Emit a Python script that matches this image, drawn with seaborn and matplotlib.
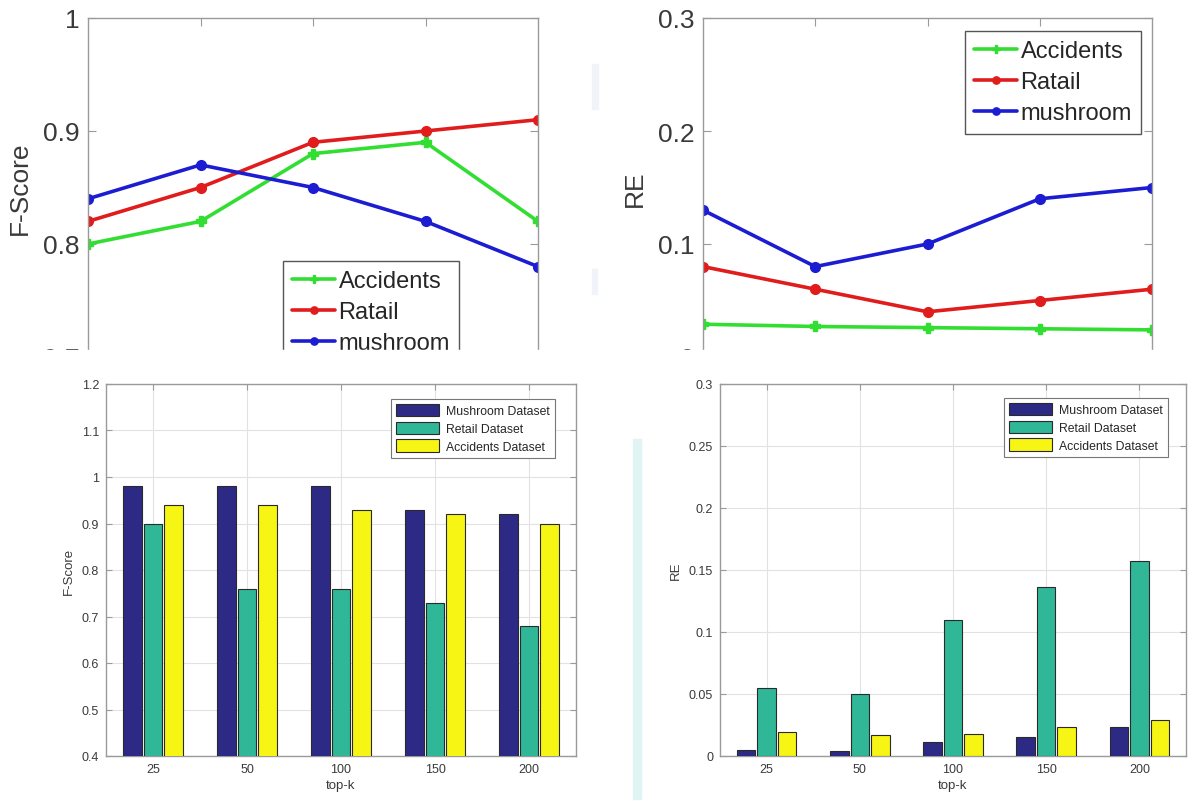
import numpy as np
import pandas as pd
import matplotlib
matplotlib.use("Agg")
import matplotlib.pyplot as plt
from matplotlib.patches import Rectangle
import seaborn as sns

# ---------------- data ----------------
topk = ["25", "50", "100", "150", "200"]

# top row (line charts)
line_series = ["Accidents", "Ratail", "mushroom"]
fscore_accidents = [0.80, 0.82, 0.88, 0.89, 0.82]
fscore_ratail = [0.82, 0.85, 0.89, 0.90, 0.91]
fscore_mushroom = [0.84, 0.87, 0.85, 0.82, 0.78]

re_accidents = [0.029, 0.027, 0.026, 0.025, 0.024]
re_ratail = [0.080, 0.060, 0.040, 0.050, 0.060]
re_mushroom = [0.130, 0.080, 0.100, 0.140, 0.150]

# bottom row (bar charts)
bar_series = ["Mushroom Dataset", "Retail Dataset", "Accidents Dataset"]
bar_fscore_mushroom = [0.98, 0.98, 0.98, 0.93, 0.92]
bar_fscore_retail = [0.90, 0.76, 0.76, 0.73, 0.68]
bar_fscore_accidents = [0.94, 0.94, 0.93, 0.92, 0.90]

bar_re_mushroom = [0.005, 0.004, 0.011, 0.015, 0.023]
bar_re_retail = [0.055, 0.050, 0.110, 0.136, 0.157]
bar_re_accidents = [0.019, 0.017, 0.018, 0.023, 0.029]

top_fs_ticks = [0.7, 0.8, 0.9, 1.0]
top_fs_labels = ["0.7", "0.8", "0.9", "1"]
top_re_ticks = [0.0, 0.1, 0.2, 0.3]
top_re_labels = ["0", "0.1", "0.2", "0.3"]
bot_fs_ticks = [0.4, 0.5, 0.6, 0.7, 0.8, 0.9, 1.0, 1.1, 1.2]
bot_fs_labels = ["0.4", "0.5", "0.6", "0.7", "0.8", "0.9", "1", "1.1", "1.2"]
bot_re_ticks = [0.0, 0.05, 0.1, 0.15, 0.2, 0.25, 0.3]
bot_re_labels = ["0", "0.05", "0.1", "0.15", "0.2", "0.25", "0.3"]

# ---------------- style ----------------
sns.set_style("white")
plt.rcParams["font.family"] = ["Liberation Sans", "DejaVu Sans"]

W, H = 1190, 803
fig = plt.figure(figsize=(W / 100, H / 100), dpi=100)
fig.patch.set_facecolor("white")


def rect(l, t, r, b):
    return [l / W, 1 - b / H, (r - l) / W, (b - t) / H]


SPINE = "#9a9a9a"
TXT = "#3a3a3a"
line_colors = {"Accidents": "#33de33", "Ratail": "#e01c1c", "mushroom": "#1c1cd2"}
line_markers = {"Accidents": "P", "Ratail": "o", "mushroom": "o"}
bar_colors = {"Mushroom Dataset": "#2d2a86",
              "Retail Dataset": "#30b797",
              "Accidents Dataset": "#f6f514"}

# faint watermark strips in the background
fig.add_artist(Rectangle((633 / W, 1 - 800 / H), 8 / W, 360 / H,
                         transform=fig.transFigure, color="#e0f4f3", zorder=-5))
fig.add_artist(Rectangle((592 / W, 1 - 110 / H), 6 / W, 45 / H,
                         transform=fig.transFigure, color="#f0f3f8", zorder=-5))
fig.add_artist(Rectangle((592 / W, 1 - 295 / H), 5 / W, 25 / H,
                         transform=fig.transFigure, color="#f0f3f8", zorder=-5))


def style_top(ax):
    for s in ax.spines.values():
        s.set_color(SPINE)
        s.set_linewidth(1.0)
    ax.tick_params(axis="x", which="both", top=True, bottom=False,
                   labelbottom=False, direction="in", length=6, color=SPINE)
    ax.tick_params(axis="y", left=True, right=True, direction="in", length=6,
                   color=SPINE, labelsize=19, labelcolor=TXT, pad=6)
    ax.set_xlim(0, len(topk) - 1)
    ax.set_xticks(np.arange(1, len(topk) - 1))
    ax.set_xlabel("")


def draw_lines(ax, series_vals):
    xs = np.arange(len(topk))
    for name, vals in zip(line_series, series_vals):
        sns.lineplot(x=xs, y=vals, ax=ax, color=line_colors[name],
                     marker=line_markers[name], markersize=7,
                     markeredgecolor=line_colors[name], markeredgewidth=1,
                     linewidth=2.6, label=name)


def top_legend(ax, left, top):
    leg = ax.legend(loc="upper left", bbox_to_anchor=(left / W, 1 - top / H),
                    bbox_transform=fig.transFigure, fontsize=17, frameon=True,
                    fancybox=False, edgecolor="#555555", framealpha=1,
                    handlelength=1.8, handletextpad=0.15, labelspacing=0.38,
                    borderpad=0.4, borderaxespad=0, markerscale=0.75)
    leg.get_frame().set_linewidth(1.0)
    return leg


# ---- top-left: F-Score lines ----
ax1 = fig.add_axes(rect(88, 19, 538, 358))
draw_lines(ax1, [fscore_accidents, fscore_ratail, fscore_mushroom])
style_top(ax1)
ax1.set_ylim(0.7, 1.0)
ax1.set_yticks(top_fs_ticks)
ax1.set_yticklabels(top_fs_labels)
ax1.set_ylabel("F-Score", fontsize=19, color=TXT, labelpad=8)
top_legend(ax1, 283, 262)

# ---- top-right: RE lines ----
ax2 = fig.add_axes(rect(703, 19, 1152, 358))
draw_lines(ax2, [re_accidents, re_ratail, re_mushroom])
style_top(ax2)
ax2.set_ylim(0.0, 0.3)
ax2.set_yticks(top_re_ticks)
ax2.set_yticklabels(top_re_labels)
ax2.set_ylabel("RE", fontsize=19, color=TXT, labelpad=8)
top_legend(ax2, 965, 32)

# crop band hiding the lower part of the top charts
fig.add_artist(Rectangle((0, 1 - 372 / H), 1, (372 - 351) / H,
                         transform=fig.transFigure, color="white", zorder=20))


def draw_bars(ax, vals_list, ylim, ticks, labels, ylabel, leg_left, leg_top):
    rows = []
    for name, vals in zip(bar_series, vals_list):
        for k, v in zip(topk, vals):
            rows.append({"topk": k, "value": v, "dataset": name})
    df = pd.DataFrame(rows)
    sns.barplot(data=df, x="topk", y="value", hue="dataset",
                order=topk, hue_order=bar_series, palette=bar_colors,
                saturation=1, width=0.66, gap=0.1, edgecolor="#2a2a2a",
                linewidth=0.8, errorbar=None, ax=ax, zorder=3)
    ax.set_xlim(-0.5, len(topk) - 0.5)
    ax.set_ylim(*ylim)
    ax.set_yticks(ticks)
    ax.set_yticklabels(labels)
    ax.grid(True, color="#e2e2e2", linewidth=0.8, zorder=0)
    ax.set_axisbelow(True)
    for s in ax.spines.values():
        s.set_color(SPINE)
        s.set_linewidth(1.0)
    ax.tick_params(axis="both", which="both", direction="in", length=4,
                   color=SPINE, labelsize=9, labelcolor=TXT,
                   top=True, right=True, left=True, bottom=True, pad=5)
    ax.set_xlabel("top-k", fontsize=9.5, color=TXT, labelpad=3)
    ax.set_ylabel(ylabel, fontsize=9.5, color=TXT, labelpad=5)
    leg = ax.legend(loc="upper left", bbox_to_anchor=(leg_left / W, 1 - leg_top / H),
                    bbox_transform=fig.transFigure, fontsize=8.8, frameon=True,
                    fancybox=False, edgecolor="#777777", framealpha=1,
                    handlelength=3.5, handleheight=1.2, handletextpad=0.6,
                    labelspacing=0.35, borderpad=0.4, borderaxespad=0)
    leg.get_frame().set_linewidth(0.8)


# ---- bottom-left: F-Score bars ----
ax3 = fig.add_axes(rect(106, 385, 576, 757))
draw_bars(ax3, [bar_fscore_mushroom, bar_fscore_retail, bar_fscore_accidents],
          (0.4, 1.2), bot_fs_ticks, bot_fs_labels, "F-Score", 391, 400)

# ---- bottom-right: RE bars ----
ax4 = fig.add_axes(rect(720, 385, 1186, 757))
draw_bars(ax4, [bar_re_mushroom, bar_re_retail, bar_re_accidents],
          (0.0, 0.3), bot_re_ticks, bot_re_labels, "RE", 1004, 399)

fig.savefig("out.png", dpi=100, facecolor="white")
